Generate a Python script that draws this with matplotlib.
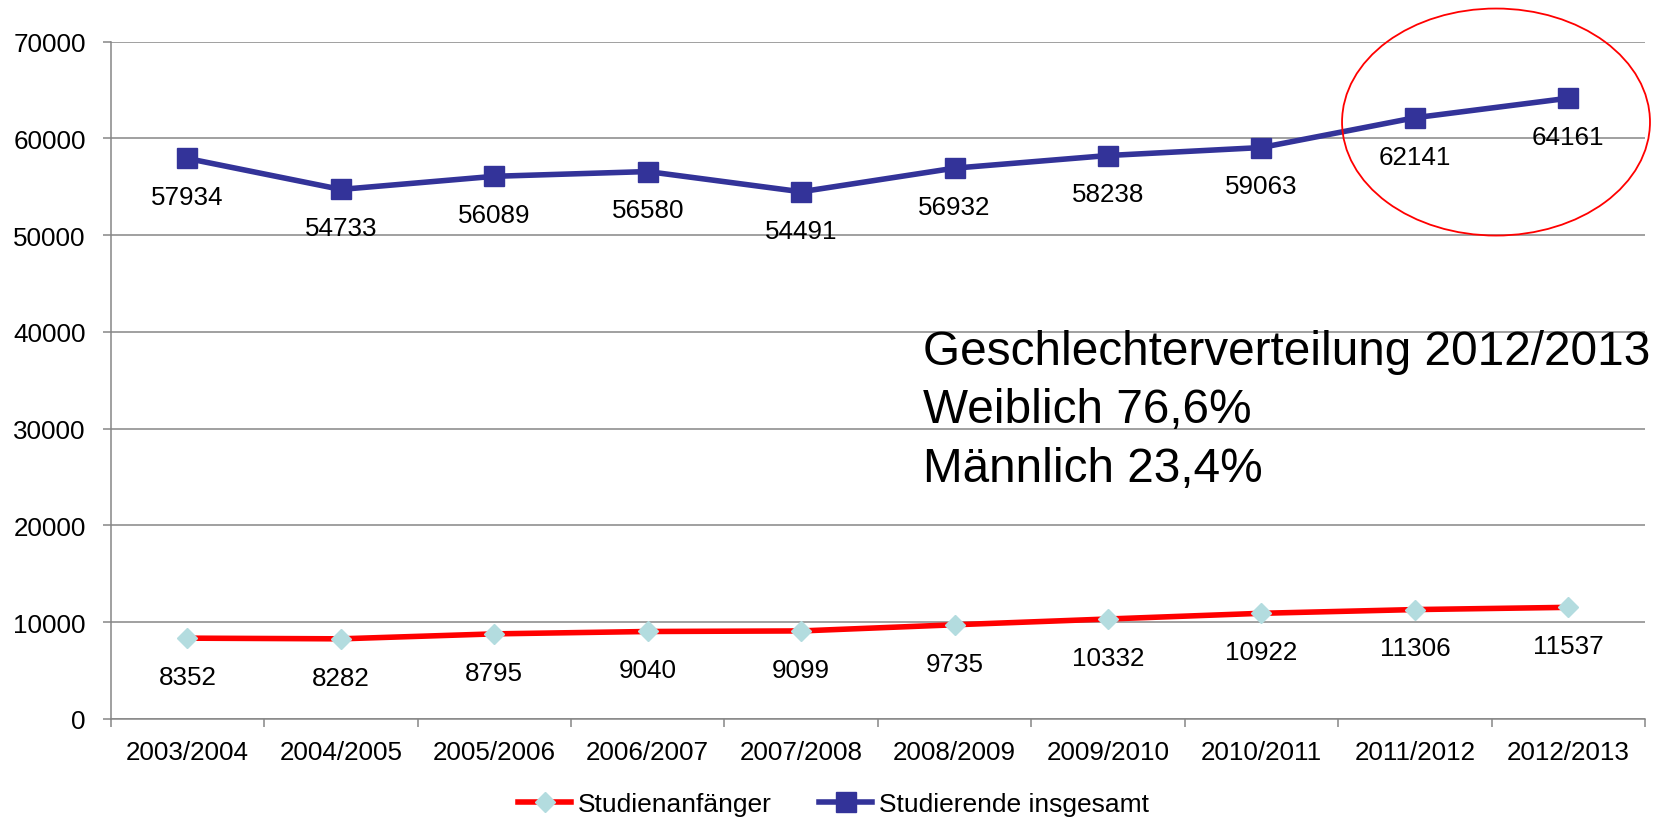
import matplotlib
matplotlib.use("Agg")
import matplotlib.pyplot as plt
from matplotlib.patches import Ellipse

plt.rcParams['font.family'] = ['Liberation Sans', 'DejaVu Sans']

years = ["2003/2004", "2004/2005", "2005/2006", "2006/2007", "2007/2008",
         "2008/2009", "2009/2010", "2010/2011", "2011/2012", "2012/2013"]
anfaenger = [8352, 8282, 8795, 9040, 9099, 9735, 10332, 10922, 11306, 11537]
insgesamt = [57934, 54733, 56089, 56580, 54491, 56932, 58238, 59063, 62141, 64161]
y_ticks = [0, 10000, 20000, 30000, 40000, 50000, 60000, 70000]
note_lines = ["Geschlechterverteilung 2012/2013", "Weiblich 76,6%", "Männlich 23,4%"]

fig = plt.figure(figsize=(16.67, 8.2), dpi=100)
ax = fig.add_axes([0.0664, 0.1220, 0.9204, 0.8259])

x = list(range(len(years)))
grid_c = "#868686"
fs = 18.7

ax.set_ylim(0, 70000)
ax.set_xlim(-0.5, len(years) - 0.5)
ax.set_yticks(y_ticks)
ax.set_yticklabels([str(v) for v in y_ticks], fontsize=fs)
ax.yaxis.grid(True, color=grid_c, linewidth=1.1)
ax.set_axisbelow(True)

ax.set_xticks([i - 0.5 for i in range(len(years) + 1)])
ax.set_xticklabels([])
ax.set_xticks(x, minor=True)
ax.set_xticklabels(years, minor=True, fontsize=fs)
ax.tick_params(axis='x', which='minor', length=0, pad=15)
ax.tick_params(axis='x', which='major', length=6, color=grid_c, width=1.1, direction='out')
ax.tick_params(axis='y', length=6, color=grid_c, width=1.1, pad=12, direction='out')

for s in ['top', 'right']:
    ax.spines[s].set_visible(False)
for s in ['left', 'bottom']:
    ax.spines[s].set_color(grid_c)
    ax.spines[s].set_linewidth(1.1)

ax.plot(x, anfaenger, color="#FF0000", linewidth=4.0, marker='D', markersize=10.5,
        markerfacecolor="#B3DCDF", markeredgecolor="#B3DCDF", label="Studienanfänger", zorder=3)
ax.plot(x, insgesamt, color="#333399", linewidth=4.0, marker='s', markersize=14.5,
        markerfacecolor="#333399", markeredgecolor="#333399", label="Studierende insgesamt", zorder=3)

for xi, v in zip(x, anfaenger):
    ax.annotate(str(v), (xi, v), xytext=(0, -28), textcoords='offset points',
                ha='center', va='center', fontsize=fs)
for xi, v in zip(x, insgesamt):
    ax.annotate(str(v), (xi, v), xytext=(0, -28), textcoords='offset points',
                ha='center', va='center', fontsize=fs)

ell = Ellipse((0.9029, 0.8814), 0.2007, 0.3352, transform=ax.transAxes,
              fill=False, edgecolor="#FF0000", linewidth=1.3, clip_on=False, zorder=4)
ax.add_patch(ell)

ys = [0.524, 0.438, 0.352]
for line, yy in zip(note_lines, ys):
    ax.text(0.5295, yy, line, transform=ax.transAxes, fontsize=34.4, ha='left',
            va='baseline')

fig.legend(loc='center', bbox_to_anchor=(0.5, 1 - 805 / 820), ncol=2, frameon=False,
           fontsize=19, handlelength=2.0, handletextpad=0.25, columnspacing=1.8)

fig.savefig("out.png", dpi=100)
